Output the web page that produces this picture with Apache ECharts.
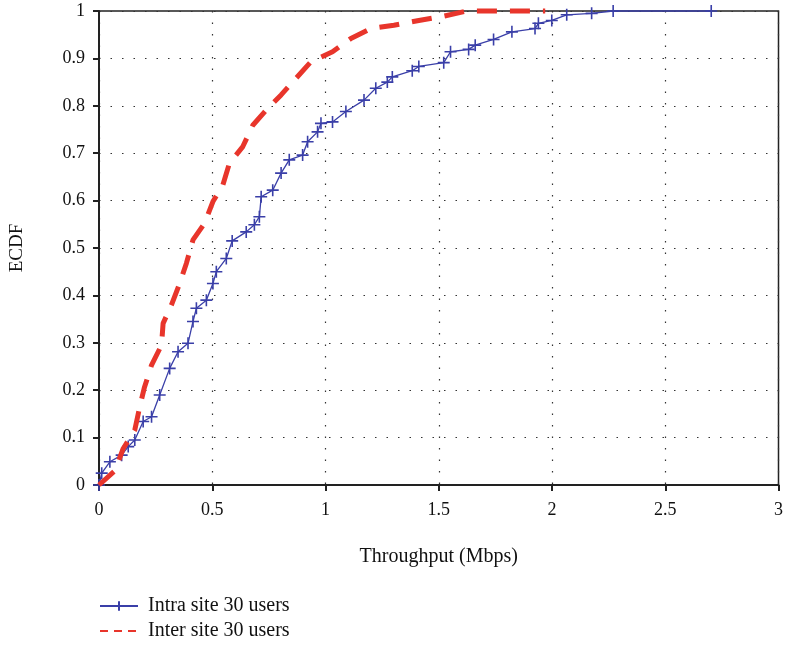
<!DOCTYPE html>
<html>
<head>
    <meta charset="utf-8">
    <style>
        html, body { width: 100%; height: 100%; margin: 0; background: #fff; }
        #chart-panel { width: 786px; height: 645px; }
    </style>
    <script src="https://cdnjs.cloudflare.com/ajax/libs/echarts/6.0.0/echarts.min.js"></script>
</head>
<body>
<div id="chart-panel"></div>
<script type="text/javascript">
  // Intra site 30 users (throughput Mbps, ECDF)
  var intraX = [0, 0.012, 0.048, 0.1, 0.129, 0.158, 0.195, 0.232, 0.268, 0.312, 0.349, 0.393, 0.415, 0.43,
    0.474, 0.503, 0.518, 0.562, 0.588, 0.65, 0.686, 0.708, 0.716, 0.767, 0.804, 0.84, 0.899, 0.921, 0.965,
    0.98, 1.031, 1.09, 1.17, 1.222, 1.273, 1.295, 1.383, 1.412, 1.522, 1.552, 1.632, 1.661, 1.742, 1.823,
    1.925, 1.94, 1.999, 2.065, 2.175, 2.27, 2.703]
  var intraY = [0, 0.025, 0.049, 0.063, 0.081, 0.095, 0.134, 0.144, 0.19, 0.246, 0.281, 0.299, 0.345, 0.373,
    0.39, 0.425, 0.45, 0.478, 0.515, 0.534, 0.549, 0.566, 0.608, 0.622, 0.658, 0.686, 0.696, 0.724, 0.745,
    0.763, 0.766, 0.788, 0.812, 0.837, 0.85, 0.861, 0.874, 0.883, 0.891, 0.914, 0.919, 0.928, 0.94, 0.956,
    0.963, 0.974, 0.98, 0.992, 0.995, 1.0, 1.0]

  // Inter site 30 users
  var interX = [0, 0.07, 0.107, 0.158, 0.18, 0.2, 0.232, 0.276, 0.283, 0.32, 0.356, 0.386, 0.415, 0.466,
    0.503, 0.547, 0.576, 0.635, 0.679, 0.738, 0.804, 0.87, 0.936, 1.031, 1.112, 1.2, 1.302, 1.412, 1.522,
    1.625, 1.75, 1.85, 1.97]
  var interY = [0, 0.03, 0.077, 0.116, 0.165, 0.205, 0.253, 0.295, 0.341, 0.38, 0.425, 0.468, 0.517, 0.552,
    0.598, 0.633, 0.679, 0.714, 0.759, 0.791, 0.823, 0.858, 0.893, 0.914, 0.942, 0.963, 0.97, 0.98, 0.989,
    1.0, 1.0, 1.0, 1.0]

  var xTicks = ['0', '0.5', '1', '1.5', '2', '2.5', '3']
  var seriesNames = ['Intra site 30 users', 'Inter site 30 users']

  function pairs(xs, ys) {
    return xs.map(function (x, i) { return [x, ys[i]] })
  }

  var plus = 'path://M0,5L10,5M5,0L5,10'
  var font = 'Liberation Serif'
  var blue = '#3a3fa8'
  var red = '#e8352b'

  var myChart = echarts.init(document.getElementById('chart-panel'))

  var legendBase = {
    orient: 'vertical',
    left: 99,
    padding: 0,
    itemWidth: 38, itemHeight: 12,
    textStyle: { fontFamily: font, fontSize: 20, color: '#111', padding: [0, 0, 0, 5] }
  }

  var option = {
    animation: false,
    textStyle: { fontFamily: font },
    grid: {
      left: 99, right: 5, top: 11, bottom: 160,
      show: true, borderColor: '#222', borderWidth: 1.5
    },
    legend: [
      Object.assign({}, legendBase, {
        top: 596,
        data: [{ name: seriesNames[0] }]
      }),
      Object.assign({}, legendBase, {
        top: 621,
        data: [{
          name: seriesNames[1],
          itemStyle: { opacity: 0 },
          lineStyle: { width: 2, type: [8, 6] }
        }]
      })
    ],
    xAxis: {
      type: 'value',
      min: 0, max: 3, interval: 0.5,
      name: 'Throughput (Mbps)',
      nameLocation: 'middle',
      nameGap: 62,
      nameTextStyle: { fontFamily: font, fontSize: 20, color: '#111' },
      axisLine: { lineStyle: { color: '#222', width: 2 } },
      axisTick: { show: true, length: 6, lineStyle: { color: '#222', width: 2 } },
      axisLabel: {
        fontFamily: font, fontSize: 18, color: '#111', margin: 16,
        formatter: function (v) { return xTicks[Math.round(v * 2)] }
      },
      splitLine: { show: true, lineStyle: { color: '#333', type: [1.5, 10], width: 1.2 } }
    },
    yAxis: {
      type: 'value',
      min: 0, max: 1, interval: 0.1,
      name: 'ECDF',
      nameLocation: 'middle',
      nameGap: 72,
      nameTextStyle: { fontFamily: font, fontSize: 19, color: '#111' },
      axisLine: { lineStyle: { color: '#222', width: 2 } },
      axisTick: { show: true, length: 6, lineStyle: { color: '#222', width: 2 } },
      axisLabel: {
        fontFamily: font, fontSize: 18, color: '#111', margin: 14,
        formatter: function (v) { return String(Math.round(v * 10) / 10) }
      },
      splitLine: { show: true, lineStyle: { color: '#333', type: [1.5, 10], width: 1.2 } }
    },
    series: [
      {
        name: seriesNames[0],
        type: 'line',
        data: pairs(intraX, intraY),
        clip: false,
        symbol: plus,
        symbolSize: 12,
        showAllSymbol: true,
        itemStyle: { color: blue, borderColor: blue, borderWidth: 1.6 },
        lineStyle: { color: blue, width: 1.3 },
        z: 2
      },
      {
        name: seriesNames[1],
        type: 'line',
        data: pairs(interX, interY),
        clip: false,
        symbol: 'none',
        itemStyle: { color: red },
        lineStyle: { color: red, width: 5, type: [20, 13] },
        z: 3
      }
    ]
  }

  myChart.setOption(option)
</script>
</body>
</html>
